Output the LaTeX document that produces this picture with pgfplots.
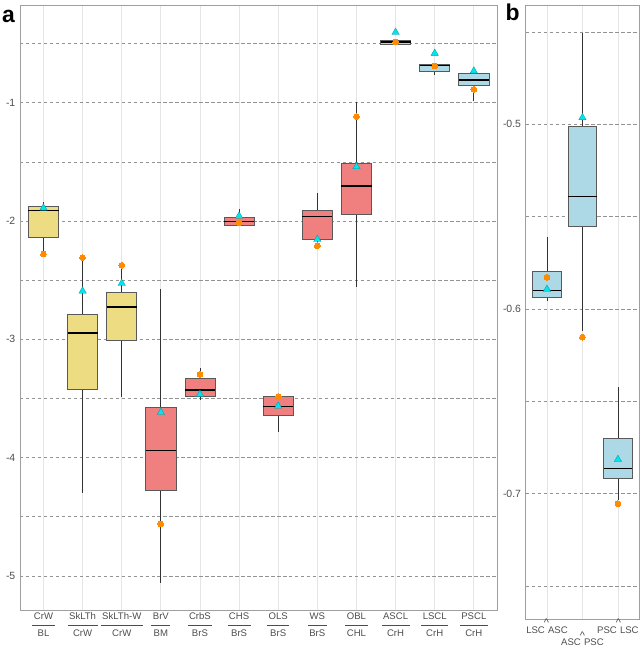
\documentclass[border=0pt]{standalone}
\usepackage{fontspec}
\setmainfont{Liberation Sans}
\usepackage{pgfplots}
\pgfplotsset{compat=1.18}

\definecolor{boxY}{RGB}{238,220,130}
\definecolor{boxR}{RGB}{240,128,128}
\definecolor{boxB}{RGB}{173,216,230}
\definecolor{meanC}{RGB}{0,229,238}
\definecolor{meanD}{RGB}{0,150,160}
\definecolor{dotO}{RGB}{255,140,0}
\definecolor{tickG}{RGB}{77,77,77}

% two-level category label: group over parent
\newcommand{\lab}[2]{\begin{tabular}{@{\hspace{1.5pt}}c@{\hspace{1.5pt}}}#1\rule[-5.5pt]{0pt}{5pt}\\\hline\rule{0pt}{11.5pt}#2\end{tabular}}
% pair label with raised caret
\newcommand{\pair}[2]{#1\kern-1pt\raisebox{0.68em}{\fontsize{11}{11}\selectfont\textasciicircum}\kern-1pt#2}

% box: position, lower whisker, lower quartile, median, upper quartile, upper whisker, fill
\newcommand{\bxp}[7]{%
  \pgfmathsetmacro\xa{#1-\bw}\pgfmathsetmacro\xb{#1+\bw}%
  \addplot[black!80, line width=0.7pt] coordinates {(#1,#5) (#1,#6)};
  \addplot[black!80, line width=0.7pt] coordinates {(#1,#3) (#1,#2)};
  \addplot[fill=#7, draw=black!65, line width=0.8pt] coordinates {(\xa,#3) (\xb,#3) (\xb,#5) (\xa,#5)} -- cycle;
  \addplot[black, line width=1.3pt] coordinates {(\xa,#4) (\xb,#4)};
}

\pgfplotsset{
  panel/.style={
    scale only axis, anchor=south west,
    axis line style={draw=gray!75, line width=0.9pt},
    major tick length=0pt, minor tick length=0pt,
    xmajorgrids, ymajorgrids, yminorgrids,
    x grid style={gray!20, line width=0.8pt},
    y grid style={gray!85, line width=0.7pt, dash pattern=on 3.5pt off 2.5pt},
    yticklabel style={font=\fontsize{10.5}{12}\selectfont, text=tickG, inner sep=0pt, xshift=-4.5pt},
    /pgf/number format/assume math mode=true,
    clip=false,
  },
  meanmk/.style={only marks, mark=triangle*, mark size=4.3pt,
    mark options={fill=meanC, draw=meanD, line width=0.3pt}},
  dotmk/.style={only marks, mark=*, mark size=2.9pt,
    mark options={fill=dotO, draw=dotO, line width=0pt}},
}

\begin{document}
\begin{tikzpicture}[x=1bp, y=1bp]
\useasboundingbox (0,0) rectangle (642,648);

\begin{axis}[panel,
  at={(20bp,38bp)}, width=477.3bp, height=605bp,
  xmin=0.4, xmax=12.6, ymin=-5.288, ymax=-0.174,
  xtick={1,...,12},
  xticklabels={{\lab{CrW}{BL}},{\lab{SkLTh}{CrW}},{\lab{SkLTh-W}{CrW}},
    {\lab{BrV}{BM}},{\lab{CrbS}{BrS}},{\lab{CHS}{BrS}},{\lab{OLS}{BrS}},
    {\lab{WS}{BrS}},{\lab{OBL}{CHL}},{\lab{ASCL}{CrH}},{\lab{LSCL}{CrH}},
    {\lab{PSCL}{CrH}}},
  xticklabel style={font=\fontsize{9.6}{11}\selectfont, text=tickG, anchor=north, inner sep=0pt, yshift=-1.5pt},
  ytick={-5,-4,-3,-2,-1}, minor ytick={-4.5,-3.5,-2.5,-1.5,-0.5},
]
\def\bw{0.385}
\bxp{1}{-2.26}{-2.141}{-1.913}{-1.879}{-1.837}{boxY}
\bxp{2}{-4.302}{-3.420}{-2.947}{-2.789}{-2.31}{boxY}
\bxp{3}{-3.490}{-3.008}{-2.727}{-2.603}{-2.374}{boxY}
\bxp{4}{-5.057}{-4.274}{-3.942}{-3.572}{-2.575}{boxR}
\bxp{5}{-3.513}{-3.482}{-3.429}{-3.327}{-3.245}{boxR}
\bxp{6}{-2.04}{-2.036}{-2.006}{-1.972}{-1.899}{boxR}
\bxp{7}{-3.784}{-3.642}{-3.570}{-3.482}{-3.47}{boxR}
\bxp{8}{-2.20}{-2.155}{-1.960}{-1.910}{-1.763}{boxR}
\bxp{9}{-2.560}{-1.947}{-1.704}{-1.510}{-0.992}{boxR}
\bxp{10}{-0.51}{-0.506}{-0.487}{-0.470}{-0.465}{boxB}
\bxp{11}{-0.766}{-0.732}{-0.687}{-0.675}{-0.67}{boxB}
\bxp{12}{-0.983}{-0.853}{-0.808}{-0.749}{-0.73}{boxB}
% means
\addplot[meanmk] coordinates {(1,-1.89) (2,-2.592) (3,-2.527) (4,-3.617) (5,-3.465) (6,-1.958)
  (7,-3.564) (8,-2.155) (9,-1.541) (10,-0.405) (11,-0.582) (12,-0.732)};
% orange points
\addplot[dotmk] coordinates {(1,-2.279) (2,-2.31) (3,-2.374) (4,-4.561) (5,-3.296) (6,-2.014)
  (7,-3.485) (8,-2.209) (9,-1.118) (10,-0.487) (11,-0.69) (12,-0.887)};
\end{axis}

\begin{axis}[panel,
  at={(525.7bp,29bp)}, width=113.5bp, height=614bp,
  xmin=0.4, xmax=3.6, ymin=-0.7678, ymax=-0.4354,
  xtick={1,2,3},
  xticklabels={{\pair{LSC}{ASC}},{\rule{0pt}{1.2em}\\\pair{ASC}{PSC}},{\pair{PSC}{LSC}}},
  xticklabel style={font=\fontsize{9.6}{11}\selectfont, text=tickG, anchor=north, align=center, inner sep=0pt},
  ytick={-0.7,-0.6,-0.5}, minor ytick={-0.75,-0.65,-0.55,-0.45},
  yticklabel style={/pgf/number format/.cd, fixed, precision=1},
]
\def\bw{0.405}
\bxp{1}{-0.5957}{-0.5939}{-0.5899}{-0.5798}{-0.5612}{boxB}
\bxp{2}{-0.612}{-0.5554}{-0.5392}{-0.5013}{-0.4507}{boxB}
\bxp{3}{-0.7034}{-0.6917}{-0.6865}{-0.6700}{-0.6424}{boxB}
\addplot[meanmk] coordinates {(1,-0.5893) (2,-0.4964) (3,-0.6814)};
\addplot[dotmk] coordinates {(1,-0.5828) (2,-0.6152) (3,-0.7054)};
\end{axis}

\node[anchor=base west, inner sep=0pt] at (2,625.5) {\fontsize{23}{25}\selectfont\bfseries a};
\node[anchor=base west, inner sep=0pt] at (505.5,627) {\fontsize{23}{25}\selectfont\bfseries b};
\end{tikzpicture}
\end{document}
